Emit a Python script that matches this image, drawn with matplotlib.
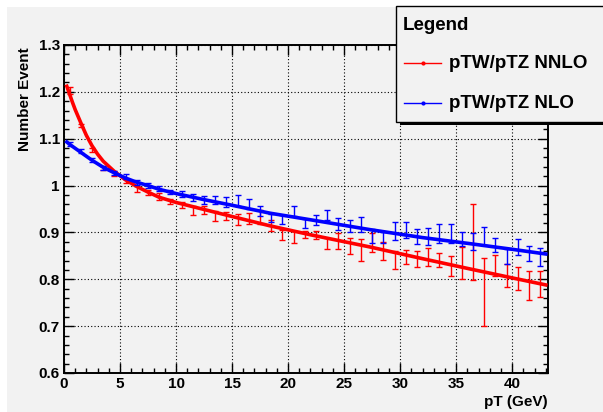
import matplotlib
matplotlib.use("Agg")
import matplotlib.pyplot as plt
from matplotlib.patches import Rectangle
from matplotlib.lines import Line2D
from matplotlib.ticker import MultipleLocator, FormatStrFormatter

plt.rcParams['font.family'] = ['Liberation Sans', 'DejaVu Sans']
plt.rcParams['font.weight'] = 'bold'

# bin centres (GeV)
bin_x = [i + 0.5 for i in range(43)]

# pTW/pTZ NNLO histogram
nnlo_y = [1.203, 1.128, 1.076, 1.038, 1.026, 1.010, 0.993, 0.985, 0.977, 0.966,
          0.959, 0.947, 0.948, 0.935, 0.935, 0.927, 0.930, 0.933, 0.914, 0.895,
          0.890, 0.895, 0.894, 0.876, 0.882, 0.871, 0.863, 0.879, 0.861, 0.841,
          0.848, 0.843, 0.848, 0.841, 0.829, 0.835, 0.879, 0.773, 0.829, 0.808,
          0.802, 0.787, 0.790]
nnlo_err = [0.007, 0.004, 0.004, 0.004, 0.005, 0.005, 0.006, 0.006, 0.007, 0.005,
            0.007, 0.009, 0.008, 0.011, 0.008, 0.012, 0.012, 0.014, 0.012, 0.011,
            0.012, 0.007, 0.009, 0.012, 0.017, 0.017, 0.024, 0.020, 0.019, 0.019,
            0.015, 0.017, 0.019, 0.015, 0.021, 0.034, 0.081, 0.072, 0.022, 0.025,
            0.024, 0.031, 0.028]

# pTW/pTZ NLO histogram
nlo_y = [1.089, 1.073, 1.054, 1.037, 1.027, 1.019, 1.007, 1.000, 0.994, 0.986,
         0.982, 0.975, 0.970, 0.970, 0.965, 0.968, 0.961, 0.946, 0.931, 0.928,
         0.945, 0.920, 0.927, 0.938, 0.918, 0.913, 0.916, 0.892, 0.889, 0.903,
         0.906, 0.891, 0.891, 0.898, 0.898, 0.885, 0.881, 0.893, 0.874, 0.849,
         0.869, 0.854, 0.847]
nlo_err = [0.004, 0.004, 0.004, 0.004, 0.005, 0.005, 0.005, 0.005, 0.005, 0.004,
           0.007, 0.008, 0.0085, 0.0085, 0.011, 0.012, 0.011, 0.011, 0.0085, 0.0096,
           0.0107, 0.0096, 0.0107, 0.0107, 0.0125, 0.013, 0.016, 0.015, 0.011, 0.0185,
           0.017, 0.016, 0.018, 0.0196, 0.020, 0.015, 0.018, 0.019, 0.015, 0.016,
           0.017, 0.016, 0.0196]

# fit curves
fit_nnlo_x = [0.25, 0.5, 0.75, 1.0, 1.25, 1.5, 2.0, 2.5, 3.0, 3.5, 4.5, 5.5, 6.5, 7.5,
              8.5, 10, 12.5, 15, 18.4, 22, 27.3, 32, 36.25, 40, 43]
fit_nnlo_y = [1.212, 1.195, 1.178, 1.162, 1.148, 1.134, 1.107, 1.085, 1.067, 1.052,
              1.030, 1.012, 0.998, 0.986, 0.975, 0.964, 0.949, 0.934, 0.914, 0.895,
              0.869, 0.844, 0.822, 0.803, 0.788]
fit_nlo_x = [0.25, 0.5, 1.5, 2.5, 3.5, 4.5, 5.5, 6.5, 7.5, 8.5, 10, 12.5, 15, 18.4,
             22, 27.3, 32, 36.25, 40, 43]
fit_nlo_y = [1.093, 1.088, 1.071, 1.054, 1.039, 1.027, 1.016, 1.007, 1.000, 0.992,
             0.983, 0.970, 0.958, 0.941, 0.927, 0.906, 0.889, 0.876, 0.864, 0.854]

W, H = 603, 412
def fx(px):
    return px / W
def fy(py):
    return 1 - py / H

fig = plt.figure(figsize=(6.03, 4.12), dpi=100)
fig.patch.set_facecolor('white')
# ROOT canvas (grey) with white margin top/left
fig.add_artist(Rectangle((fx(7), 0), 1, fy(7), transform=fig.transFigure,
                         facecolor='#f2f2f2', edgecolor='none', zorder=0))

ax = fig.add_axes([fx(64), fy(373), fx(548) - fx(64), fy(45) - fy(373)])
ax.set_facecolor('#f2f2f2')

ax.errorbar(bin_x, nnlo_y, yerr=nnlo_err, fmt='none', ecolor='#ff0000',
            elinewidth=1.0, capsize=2.2, capthick=1.0, zorder=3)
ax.plot(fit_nnlo_x, fit_nnlo_y, color='#ff0000', lw=2.6, zorder=4)
ax.errorbar(bin_x, nlo_y, yerr=nlo_err, fmt='none', ecolor='#0000ff',
            elinewidth=1.0, capsize=2.2, capthick=1.0, zorder=5)
ax.plot(fit_nlo_x, fit_nlo_y, color='#0000ff', lw=2.6, zorder=6)

ax.set_xlim(0, 43.2)
ax.set_ylim(0.6, 1.3)
ax.xaxis.set_major_locator(MultipleLocator(5))
ax.xaxis.set_minor_locator(MultipleLocator(1))
ax.yaxis.set_major_locator(MultipleLocator(0.1))
ax.yaxis.set_minor_locator(MultipleLocator(0.02))
ax.yaxis.set_major_formatter(FormatStrFormatter('%g'))
ax.grid(True, which='major', color='black', linestyle=(0, (1, 2)), lw=0.8)
ax.tick_params(which='both', direction='in', top=True, right=True,
               labelsize=11, width=1.0, pad=3)
ax.tick_params(which='major', length=7)
ax.tick_params(which='minor', length=3.5)
for s in ax.spines.values():
    s.set_linewidth(1.4)

fig.text(fx(25), fy(47), 'Number Event', rotation=90, ha='center', va='top',
         fontsize=11, fontweight='bold')
fig.text(fx(548), fy(395), 'pT (GeV)', ha='right', va='top',
         fontsize=11, fontweight='bold')

# legend box with shadow
fig.add_artist(Rectangle((fx(400), fy(125)), 1, fy(10) - fy(125), transform=fig.transFigure,
                         facecolor='black', edgecolor='none', zorder=10))
fig.add_artist(Rectangle((fx(396), fy(122)), 1, fy(6) - fy(122), transform=fig.transFigure,
                         facecolor='#f2f2f2', edgecolor='black', lw=1.0, zorder=11))
fig.text(fx(403), fy(25), 'Legend', ha='left', va='center', fontsize=13.5,
         fontweight='bold', zorder=12)
entries = [('pTW/pTZ NNLO', '#ff0000', 63), ('pTW/pTZ NLO', '#0000ff', 103)]
for lab, col, ypx in entries:
    fig.add_artist(Line2D([fx(404), fx(441)], [fy(ypx), fy(ypx)], color=col, lw=1.0,
                          transform=fig.transFigure, zorder=12))
    fig.add_artist(Line2D([fx(422.5)], [fy(ypx)], color=col, marker='o', ms=2,
                          transform=fig.transFigure, zorder=12))
    fig.text(fx(449), fy(ypx), lab, ha='left', va='center', fontsize=13.5,
             fontweight='bold', zorder=12)

fig.savefig('out.png', dpi=100)
